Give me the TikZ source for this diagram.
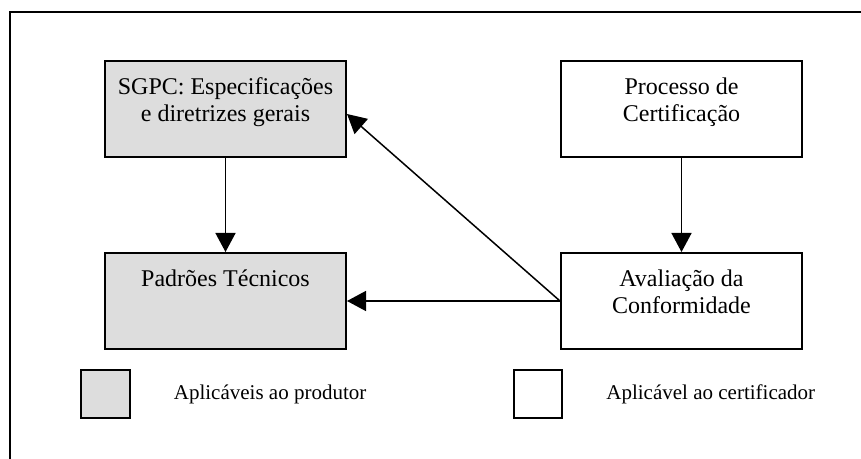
\documentclass[tikz,border=0pt]{standalone}
\usepackage{fontspec}
\setmainfont{Liberation Serif}
\usetikzlibrary{arrows.meta}
\definecolor{boxgray}{RGB}{221,221,221}
\tikzstyle{block}=[draw=black, line width=1pt, minimum width=120.5pt, minimum height=48pt, inner sep=0pt]
\tikzstyle{grayblock}=[block, fill=boxgray]
\tikzstyle{caption}=[anchor=north, inner sep=0pt, align=center, font=\fontsize{12}{13.5}\selectfont]
\tikzstyle{legendtext}=[anchor=west, inner sep=0pt, font=\fontsize{10.5}{12}\selectfont]
\tikzstyle{link}=[line width=0.75pt, -{Triangle[length=9.5pt,width=10pt]}]

\begin{document}
\begin{tikzpicture}[x=0.5pt,y=-0.5pt]
\useasboundingbox (0,0) rectangle (861,459);
\draw[line width=1pt] (861,12.5) -- (10,12.5) -- (10,459);

\node[grayblock] (sgpc) at (225.5,109) {};
\node[block] (proc) at (681.5,109) {};
\node[grayblock] (padr) at (225.5,301) {};
\node[block] (aval) at (681.5,301) {};

\node[caption] (sgpc-txt) at ([yshift=-8.5pt]sgpc.north) {SGPC: Especificações\\e diretrizes gerais};
\node[caption] (proc-txt) at ([yshift=-8.5pt]proc.north) {Processo de\\Certificação};
\node[caption] (padr-txt) at ([yshift=-8.5pt]padr.north) {Padrões Técnicos};
\node[caption] (aval-txt) at ([yshift=-8.5pt]aval.north) {Avaliação da\\Conformidade};

\draw[link] (sgpc.south) -- (padr.north);
\draw[link] (proc.south) -- (aval.north);
\draw[link] (aval.west) -- (padr.east);
\draw[link] (aval.west) -- ([yshift=-2.5pt]sgpc.east);

\node[grayblock, minimum width=24.5pt, minimum height=24pt] (legend-prod) at (105.5,394) {};
\node[block, minimum width=24pt, minimum height=24pt] (legend-cert) at (538,394) {};
\node[legendtext] (legend-prod-txt) at (173.5,394) {Aplicáveis ao produtor};
\node[legendtext] (legend-cert-txt) at (606,394) {Aplicável ao certificador};
\end{tikzpicture}
\end{document}
